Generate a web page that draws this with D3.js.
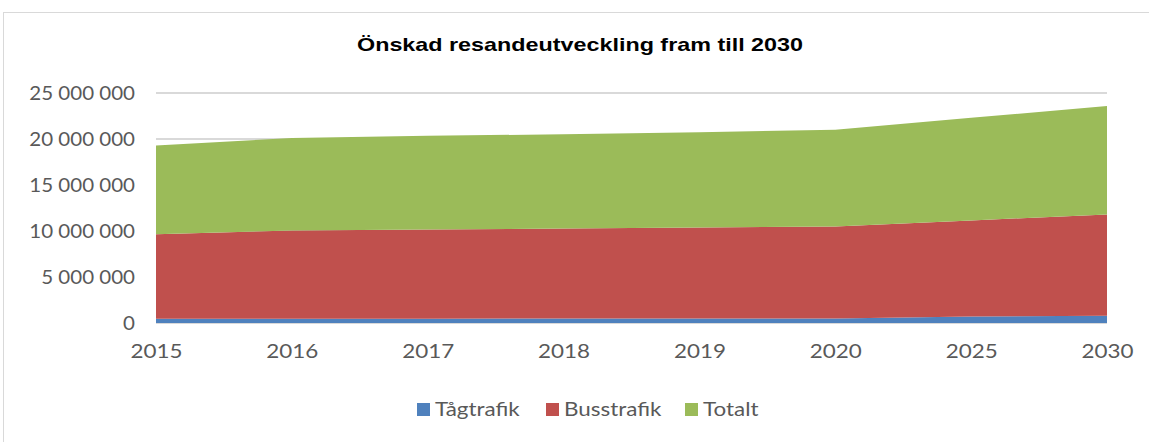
<!DOCTYPE html>
<html>
<head>
<meta charset="utf-8">
<script src="https://cdn.jsdelivr.net/npm/d3@7"></script>
<style>
  body { margin: 0; background: #fff; }
  text { font-family: Lato, "Open Sans", sans-serif; }
</style>
</head>
<body>
<div id="chart"></div>
<script>
// år på x-axeln
var years = ["2015", "2016", "2017", "2018", "2019", "2020", "2025", "2030"];
// resande per år
var tagtrafik = [450000, 460000, 470000, 480000, 490000, 500000, 700000, 800000];
var busstrafik = [9200000, 9600000, 9700000, 9780000, 9880000, 10000000, 10450000, 11000000];
var totalt = [9650000, 10060000, 10170000, 10260000, 10370000, 10500000, 11150000, 11800000];
var seriesNames = ["Tågtrafik", "Busstrafik", "Totalt"];
var colors = ["#4f81bd", "#c0504d", "#9bbb59"];
var yTicks = [0, 5000000, 10000000, 15000000, 20000000, 25000000];

let W = 1149, H = 442;
let margin = {top: 93, left: 156, right: 42, bottom: 119};
let width = W - margin.left - margin.right;
let height = H - margin.top - margin.bottom;

// sträck ut texten i sidled, bilden är lite bredare än fonten
let stretch = (sel, k) => {
    sel.each(function() {
        let len = this.getComputedTextLength();
        d3.select(this).attr("textLength", len * k).attr("lengthAdjust", "spacingAndGlyphs");
    });
};

let rows = years.map((y, i) => ({year: y, "Tågtrafik": tagtrafik[i], "Busstrafik": busstrafik[i], "Totalt": totalt[i]}));
let stacked = d3.stack().keys(seriesNames)(rows);

let x = d3.scalePoint().domain(years).range([0, width]);
let y = d3.scaleLinear().domain([0, 25000000]).range([height, 0]);

let svg = d3.select("#chart").append("svg")
    .attr("width", W).attr("height", H);

// ram runt diagrammet
svg.append("rect")
    .attr("x", 3.5).attr("y", 12.5)
    .attr("width", W).attr("height", H)
    .attr("fill", "none").attr("stroke", "#d9d9d9").attr("stroke-width", 1);

svg.append("text")
    .attr("x", 580).attr("y", 51)
    .attr("text-anchor", "middle")
    .style("font-family", "'Liberation Sans', Arial, sans-serif")
    .style("font-weight", "bold").style("font-size", "19px")
    .attr("fill", "#000")
    .attr("textLength", 446).attr("lengthAdjust", "spacingAndGlyphs")
    .text("Önskad resandeutveckling fram till 2030");

let g = svg.append("g").attr("transform", `translate(${margin.left},${margin.top})`);

// stödlinjer
g.selectAll(".grid").data(yTicks).enter().append("line")
    .attr("x1", 0).attr("x2", width)
    .attr("y1", d => y(d)).attr("y2", d => y(d))
    .attr("stroke", "#d9d9d9").attr("stroke-width", 2);

let area = d3.area()
    .x(d => x(d.data.year))
    .y0(d => y(d[0]))
    .y1(d => y(d[1]));

g.selectAll(".area").data(stacked).enter().append("path")
    .attr("d", area)
    .attr("fill", (d, i) => colors[i]);

// y-axel
let fmt = v => d3.format(",")(v).replace(/,/g, " ");
let yAxis = d3.axisLeft(y).tickValues(yTicks).tickFormat(fmt).tickSize(0).tickPadding(21);
g.append("g").call(yAxis)
    .call(s => s.select(".domain").remove())
    .selectAll("text")
    .style("font-size", "19px").attr("fill", "#595959")
    .call(stretch, 1.08);

// x-axel
let xAxis = d3.axisBottom(x).tickSize(0).tickPadding(22);
g.append("g").attr("transform", `translate(0,${height})`).call(xAxis)
    .call(s => s.select(".domain").remove())
    .selectAll("text")
    .style("font-size", "19px").attr("fill", "#595959")
    .call(stretch, 1.18);

// förklaring
let legendX = [417, 546, 685];
let legend = svg.append("g");
seriesNames.forEach((name, i) => {
    legend.append("rect")
        .attr("x", legendX[i]).attr("y", 403)
        .attr("width", 13).attr("height", 13)
        .attr("fill", colors[i]);
    legend.append("text")
        .attr("x", legendX[i] + 18).attr("y", 416)
        .style("font-size", "19px").attr("fill", "#595959")
        .text(name)
        .call(stretch, 1.18);
});
</script>
</body>
</html>
